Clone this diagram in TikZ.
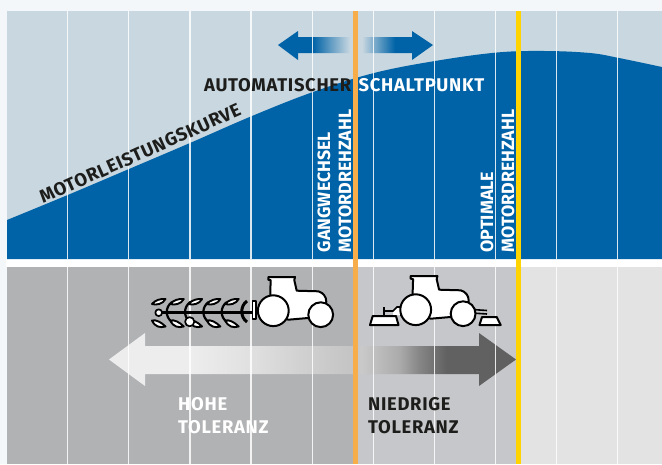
\documentclass[tikz,border=0pt]{standalone}
\usepackage{fontspec}
\setmainfont{Fira Sans}
\definecolor{skyback}{HTML}{C8D7E0}
\definecolor{curveblue}{HTML}{0063A7}
\definecolor{pageback}{HTML}{F3F7F9}
\definecolor{darkgrey}{HTML}{B1B2B4}
\definecolor{midgrey}{HTML}{C6C7CA}
\definecolor{lightgrey}{HTML}{E3E3E3}
\definecolor{shiftline}{HTML}{F6AD4A}
\definecolor{optline}{HTML}{FFD400}
\definecolor{inkblack}{HTML}{1D1D1B}
\pgfdeclarehorizontalshading{bluefade}{100bp}{
    color(0bp)=(curveblue); color(36.3bp)=(curveblue);
    color(42.1bp)=(curveblue!50!skyback); color(48.2bp)=(skyback);
    color(52.1bp)=(skyback); color(56.3bp)=(curveblue!40!skyback);
    color(62.7bp)=(curveblue); color(100bp)=(curveblue)}
\pgfdeclarehorizontalshading{greyfade}{100bp}{
    color(0bp)=(black!7); color(35bp)=(black!7);
    color(42.3bp)=(black!12); color(48.5bp)=(black!18);
    color(54.6bp)=(black!23); color(56bp)=(black!21);
    color(60.7bp)=(black!33); color(63bp)=(black!47); color(66.5bp)=(black!62); color(100bp)=(black!63)}
\tikzset{
    gridline/.style={white,line width=1.2pt,opacity=0.85},
    blabel/.style={inner sep=0pt,font=\fontsize{17.8}{23}\selectfont\bfseries,text=inkblack},
    wlabel/.style={blabel,text=white},
    wide/.style={font=\fontsize{18.4}{23}\selectfont\bfseries\addfontfeature{LetterSpace=3.8}},
    part/.style={draw=black,fill=white,line width=2pt,line join=round},
    share/.style={draw=black,fill=white,line width=1.9pt,line join=round},
    tractor/.pic={
        % body, measured from the centre of the rear wheel
        \draw[part] (-13,-1) -- (-3,-12) .. controls (-3,-20) .. (-2.6,-30.5)
            -- (-5,-31) -- (-5,-33.7) -- (21.7,-33.7) -- (21,-30.5)
            -- (23.4,-20) -- (45,-19.4) .. controls (50,-18) and (53,-14) .. (53,-9)
            -- (50,6) -- (15,9) -- cycle;
        \draw[part] (47.4,4) circle (12.4);
        \draw[part] (0,0) circle (15.4);
    }
}
\begin{document}
\begin{tikzpicture}[x=1pt,y=-1pt]
    \useasboundingbox (0,0) rectangle (662,464);
    \fill[pageback] (0,0) rectangle (662,464);
    \fill[white] (6,259) rectangle (662,267);

    % Upper panel with the curve
    \fill[skyback] (7,11) rectangle (662,259);
    \fill[curveblue] plot[smooth,tension=0.6] coordinates {(7,220) (67.7,195) (129,169) (190,143) (252,116)
        (313,92) (374,73) (435,61) (497,52.5) (545,51) (590,53) (619,58) (662,67)}
        -- (662,259) -- (7,259) -- cycle;

    % Lower panel
    \fill[darkgrey] (7,267) rectangle (354,464);
    \fill[midgrey] (354,267) rectangle (518,464);
    \fill[lightgrey] (518,267) rectangle (662,464);

    % Arrows
    \shade[shading=bluefade] (278,45) -- (298,31) -- (298,37) -- (412,37) -- (412,31)
        -- (433,45) -- (412,60) -- (412,53) -- (298,53) -- (298,60) -- cycle;
    \shade[shading=greyfade] (109,359.5) -- (145,333) -- (145,346) -- (479,346) -- (479,333)
        -- (516,359.5) -- (479,386) -- (479,374) -- (145,374) -- (145,386) -- cycle;

    % Grid lines
    \foreach \k in {0,...,9} {
        \pgfmathsetmacro{\linex}{67.7 + 61.1*\k}
        \draw[gridline] (\linex,11) -- (\linex,259);
        \draw[gridline] (\linex,267) -- (\linex,464);
    }

    \draw[shiftline,line width=4.6pt] (355.4,11) -- (355.4,464);
    \draw[optline,line width=4.6pt] (518.6,11) -- (518.6,464);

    % Plough
    \draw[black,line width=3pt] (158,312.5) -- (252,312.5);
    \foreach \k in {0,...,4} {
        \pgfmathsetmacro{\sharex}{152 + 18.3*\k}
        \draw[share] (\sharex,304) .. controls (\sharex+3,300) and (\sharex+9,298.5) .. (\sharex+13.5,299)
            .. controls (\sharex+11,304) and (\sharex+4,305.5) .. cycle;
        \draw[share] (\sharex,320.5) .. controls (\sharex+4,319.5) and (\sharex+9,322) .. (\sharex+13.5,326.5)
            .. controls (\sharex+8,328) and (\sharex+3,327) .. cycle;
    }
    \foreach \k in {0,...,3} {
        \pgfmathsetmacro{\bendx}{172 + 18.3*\k}
        \draw[black,line width=2.2pt] (\bendx,302) .. controls (\bendx-7,307) and (\bendx-7,317) .. (\bendx,322);
    }
    \draw[black,line width=3pt] (247,301) .. controls (240,306) and (240,317) .. (247,322);
    \draw[part,line width=1.7pt] (158.7,312.7) circle (3.4);
    \draw[part,line width=1.7pt] (189.7,321.7) circle (4.6);
    \draw[part,line width=1.7pt] (252.5,301) rectangle (256,319);

    % Tractors
    \pic at (273.3,310.7) {tractor};

    \fill[white] (393,311) -- (397,307) -- (401,307) -- (401,315) -- (393,315) -- cycle;
    \draw[black,line width=1.7pt] (384,316) -- (384,307) (384,311) -- (393,311) -- (397,307) -- (401,307) -- (401,316);
    \draw[part] (372.7,316) -- (396,316) -- (398.5,325) -- (370,325) -- cycle;
    \draw[black,line width=1.6pt] (472,309.5) -- (487,310.5) (472,313) -- (487,314);
    \draw[part] (482,317) -- (496.7,317) -- (500.7,325) -- (479.5,325) -- cycle;
    \pic at (415.7,309.7) {tractor};

    % Labels
    \node[blabel,wide,anchor=base west] (autoleft) at (204,91) {AUTOMATISCHER};
    \node[wlabel,wide,anchor=base west] (autoright) at (358.5,91) {SCHALTPUNKT};
    \node[blabel,wide,anchor=base west,rotate=24.2] (curvelabel) at (43,204) {MOTORLEISTUNGSKURVE};
    \node[wlabel,anchor=base west,rotate=90] (gearone) at (330,252.5) {GANGWECHSEL};
    \node[wlabel,anchor=base west,rotate=90] (geartwo) at (351,252.5) {MOTORDREHZAHL};
    \node[wlabel,anchor=base west,rotate=90] (optone) at (493,252.5) {OPTIMALE};
    \node[wlabel,anchor=base west,rotate=90] (opttwo) at (514,252.5) {MOTORDREHZAHL};
    \node[wlabel,wide,anchor=base west,align=left] (hightol) at (178,433) {HOHE\\TOLERANZ};
    \node[blabel,wide,anchor=base west,align=left] (lowtol) at (368,433) {NIEDRIGE\\TOLERANZ};
\end{tikzpicture}
\end{document}
